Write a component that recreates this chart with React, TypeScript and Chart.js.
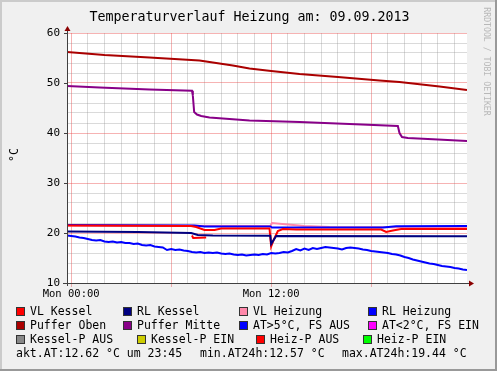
import React, { useEffect, useRef } from 'react';
import { Chart, registerables } from 'chart.js';

Chart.register(...registerables);

// ---------- texts ----------
const TITLE = 'Temperaturverlauf Heizung am: 09.09.2013';
const Y_UNIT = '°C';
const WATERMARK = 'RRDTOOL / TOBI OETIKER';
const X_TICK_LABELS: Record<number, string> = { 0: 'Mon 00:00', 12: 'Mon 12:00' };
const STATS_TEXTS = ['akt.AT:12.62 °C um 23:45', 'min.AT24h:12.57 °C', 'max.AT24h:19.44 °C'];

// ---------- axes ----------
const X_MIN = -0.25; // hours relative to Mon 00:00
const X_MAX = 23.75;
const Y_MIN = 10;
const Y_MAX = 60;
const X_GRID_HOURS = [0, 1, 2, 3, 4, 5, 6, 7, 8, 9, 10, 11, 12, 13, 14, 15, 16, 17, 18, 19, 20, 21, 22, 23];
const Y_GRID_VALUES = [10, 12, 14, 16, 18, 20, 22, 24, 26, 28, 30, 32, 34, 36, 38, 40, 42, 44, 46, 48, 50, 52, 54, 56, 58, 60];

// ---------- series (time in hours, value in °C) ----------
const pufferObenT = [-0.25, 2, 4.7, 7.7, 8.1, 9.7, 10.7, 12, 13.7, 16, 18.5, 19.7, 22.1, 23.75];
const pufferObenV = [56.2, 55.6, 55.1, 54.5, 54.3, 53.5, 52.9, 52.4, 51.8, 51.2, 50.5, 50.2, 49.3, 48.6];

const pufferMitteT = [-0.25, 1.7, 4.7, 7.25, 7.3, 7.38, 7.55, 7.8, 8.3, 9.5, 10.7, 13.7, 16.7, 19.6, 19.7, 19.85, 20.2, 22, 23.75];
const pufferMitteV = [49.4, 49.1, 48.7, 48.45, 47.5, 44.2, 43.7, 43.4, 43.1, 42.8, 42.5, 42.2, 41.8, 41.4, 40.0, 39.2, 39.0, 38.7, 38.4];

const vlKesselT = [-0.25, 7.2, 7.5, 8.0, 8.6, 9.0, 11.9, 12.0, 12.15, 12.4, 12.7, 13.5, 18.6, 18.9, 19.3, 19.8, 23.75];
const vlKesselV = [21.5, 21.4, 21.2, 20.6, 20.6, 20.9, 20.9, 17.3, 18.6, 20.4, 20.8, 20.7, 20.7, 20.2, 20.5, 20.8, 20.8];

const rlKesselT = [-0.25, 4.0, 7.2, 7.6, 8.5, 11.95, 12.0, 12.3, 23.75];
const rlKesselV = [20.3, 20.2, 20.0, 19.6, 19.5, 19.45, 17.8, 19.4, 19.35];

const vlHeizungT = [-0.25, 11.95, 12.05, 13.0, 14.0, 15.5, 23.75];
const vlHeizungV = [21.5, 21.4, 22.0, 21.7, 21.4, 21.2, 21.1];

const rlHeizungT = [-0.25, 7.4, 8.0, 11.95, 12.05, 18.7, 19.5, 23.75];
const rlHeizungV = [21.6, 21.5, 21.3, 21.3, 21.1, 21.1, 21.35, 21.4];

const heizPAusT = [7.25, 7.32, 8.1];
const heizPAusV = [19.5, 19.0, 19.1];

// outside temperature, one sample every 15 minutes from X_MIN
const AT_STEP = 0.25;
const atV = [
  19.5, 19.4, 19.3, 19.1, 19.0, 18.8, 18.6, 18.5, 18.6, 18.3,
  18.2, 18.3, 18.1, 18.2, 18.0, 18.0, 17.8, 17.9, 17.6, 17.5,
  17.6, 17.3, 17.2, 17.1, 16.6, 16.8, 16.6, 16.7, 16.5, 16.4,
  16.2, 16.1, 16.2, 16.0, 16.1, 16.0, 16.1, 15.9, 15.8, 15.9,
  15.7, 15.6, 15.7, 15.5, 15.6, 15.7, 15.6, 15.8, 15.7, 16.0,
  15.9, 16.0, 16.2, 16.1, 16.4, 16.8, 16.5, 16.9, 16.6, 17.0,
  16.8, 17.0, 17.2, 17.1, 17.0, 16.9, 16.7, 17.0, 17.1, 17.0,
  16.9, 16.7, 16.6, 16.4, 16.3, 16.2, 16.1, 16.0, 15.8, 15.7,
  15.5, 15.2, 15.0, 14.7, 14.5, 14.3, 14.1, 13.9, 13.8, 13.6,
  13.4, 13.3, 13.2, 13.0, 12.9, 12.7, 12.6,
];

// ---------- legend ----------
const legendLabels = [
  ['VL Kessel', 'RL Kessel', 'VL Heizung', 'RL Heizung'],
  ['Puffer Oben', 'Puffer Mitte', 'AT>5°C, FS AUS', 'AT<2°C, FS EIN'],
  ['Kessel-P AUS', 'Kessel-P EIN', 'Heiz-P AUS', 'Heiz-P EIN'],
];
const legendColors = [
  ['#FF0000', '#000080', '#FF88AA', '#0000FF'],
  ['#AA0000', '#880088', '#0000FF', '#FF00FF'],
  ['#888888', '#CCCC00', '#FF0000', '#00FF00'],
];
const legendBoxX = [
  [16, 123, 239, 368],
  [16, 123, 239, 368],
  [16, 137, 256, 363],
];
const legendRowBaseline = [315, 329, 343];
const statsX = [16, 200, 342];
const statsBaseline = 357;

// ---------- styles ----------
const FONT = '"DejaVu Sans Mono", monospace';
const BACK = '#F0F0F0';
const SHADE_A = '#CBCBCB';
const SHADE_B = '#999999';
const GRID_MINOR = 'rgba(140,140,140,0.32)';
const GRID_MAJOR = 'rgba(232,64,64,0.4)';
const AXIS = '#404040';
const ARROW = '#8B0000';

const pts = (t: number[], v: number[]) => t.map((x, i) => ({ x, y: v[i] }));
const atPts = atV.map((y, i) => ({ x: X_MIN + i * AT_STEP, y }));

const rrdPlugin = {
  id: 'rrdDecor',
  beforeDraw(chart: any) {
    const { ctx, width, height, chartArea: a } = chart;
    ctx.save();
    ctx.fillStyle = BACK;
    ctx.fillRect(0, 0, width, height);
    ctx.fillStyle = SHADE_A;
    ctx.fillRect(0, 0, width, 2);
    ctx.fillRect(0, 0, 2, height);
    ctx.fillStyle = SHADE_B;
    ctx.fillRect(0, height - 2, width, 2);
    ctx.fillRect(width - 2, 0, 2, height);
    ctx.fillStyle = '#FFFFFF';
    ctx.fillRect(a.left, a.top, a.right - a.left, a.bottom - a.top);
    ctx.restore();
  },
  afterDraw(chart: any) {
    const { ctx, chartArea: a, scales } = chart;
    const xs = scales.x;
    const ys = scales.y;
    ctx.save();
    // major tick stubs
    ctx.lineWidth = 1;
    ctx.strokeStyle = GRID_MAJOR;
    X_GRID_HOURS.filter((h) => h % 6 === 0).forEach((h) => {
      const px = Math.round(xs.getPixelForValue(h)) + 0.5;
      ctx.beginPath();
      ctx.moveTo(px, a.bottom);
      ctx.lineTo(px, a.bottom + 4);
      ctx.stroke();
    });
    ctx.strokeStyle = AXIS;
    Y_GRID_VALUES.filter((v) => v % 10 === 0).forEach((v) => {
      const py = Math.round(ys.getPixelForValue(v)) + 0.5;
      ctx.beginPath();
      ctx.moveTo(a.left - 3, py);
      ctx.lineTo(a.left, py);
      ctx.stroke();
    });
    // axes
    const ax = Math.round(a.left) + 0.5;
    const ay = Math.round(a.bottom) + 0.5;
    ctx.strokeStyle = AXIS;
    ctx.beginPath();
    ctx.moveTo(ax, a.bottom + 3);
    ctx.lineTo(ax, a.top - 4);
    ctx.stroke();
    ctx.beginPath();
    ctx.moveTo(a.left - 4, ay);
    ctx.lineTo(a.right + 3, ay);
    ctx.stroke();
    ctx.fillStyle = ARROW;
    ctx.beginPath();
    ctx.moveTo(ax - 3, a.top - 2);
    ctx.lineTo(ax + 3, a.top - 2);
    ctx.lineTo(ax, a.top - 7);
    ctx.closePath();
    ctx.fill();
    ctx.beginPath();
    ctx.moveTo(a.right + 2, ay - 3);
    ctx.lineTo(a.right + 2, ay + 3);
    ctx.lineTo(a.right + 7, ay);
    ctx.closePath();
    ctx.fill();

    // title
    ctx.fillStyle = '#000000';
    ctx.font = `13.3px ${FONT}`;
    ctx.textAlign = 'center';
    ctx.textBaseline = 'alphabetic';
    ctx.fillText(TITLE, 249.5, 21);

    // unit label
    ctx.save();
    ctx.translate(18, 155);
    ctx.rotate(-Math.PI / 2);
    ctx.font = `11.5px ${FONT}`;
    ctx.textAlign = 'center';
    ctx.fillText(Y_UNIT, 0, 0);
    ctx.restore();

    // watermark
    ctx.save();
    ctx.translate(484, 61.5);
    ctx.rotate(Math.PI / 2);
    ctx.font = `8.2px ${FONT}`;
    ctx.fillStyle = '#B8B8B8';
    ctx.textAlign = 'center';
    ctx.fillText(WATERMARK, 0, 0);
    ctx.restore();

    // legend
    ctx.font = `11.5px ${FONT}`;
    ctx.textAlign = 'left';
    ctx.textBaseline = 'alphabetic';
    legendLabels.forEach((row, r) => {
      row.forEach((label, c) => {
        const bx = legendBoxX[r][c];
        const by = legendRowBaseline[r] - 8;
        ctx.fillStyle = legendColors[r][c];
        ctx.fillRect(bx, by, 9, 9);
        ctx.strokeStyle = '#333333';
        ctx.lineWidth = 1;
        ctx.strokeRect(bx + 0.5, by + 0.5, 8, 8);
        ctx.fillStyle = '#000000';
        ctx.fillText(label, bx + 14, legendRowBaseline[r]);
      });
    });
    STATS_TEXTS.forEach((t, i) => {
      ctx.fillText(t, statsX[i], statsBaseline);
    });
    ctx.restore();
  },
};

export default function App() {
  const ref = useRef<HTMLCanvasElement | null>(null);
  useEffect(() => {
    document.body.style.margin = '0';
    if (!ref.current) return;
    const line = (label: string, data: any[], color: string) => ({
      label,
      data,
      borderColor: color,
      backgroundColor: color,
      borderWidth: 2,
      pointRadius: 0,
      tension: 0,
      fill: false,
    });
    const chart = new Chart(ref.current, {
      type: 'line',
      data: {
        datasets: [
          line('AT', atPts, '#0000FF'),
          line('Puffer Mitte', pts(pufferMitteT, pufferMitteV), '#880088'),
          line('Puffer Oben', pts(pufferObenT, pufferObenV), '#AA0000'),
          line('RL Kessel', pts(rlKesselT, rlKesselV), '#000080'),
          line('VL Kessel', pts(vlKesselT, vlKesselV), '#FF0000'),
          line('RL Heizung', pts(rlHeizungT, rlHeizungV), '#0000FF'),
          line('Heiz-P AUS', pts(heizPAusT, heizPAusV), '#FF0000'),
          line('VL Heizung', pts(vlHeizungT, vlHeizungV), '#FF88AA'),
        ],
      },
      options: {
        responsive: false,
        devicePixelRatio: 1,
        animation: false,
        events: [],
        layout: { padding: { top: 33, left: 0, right: 30, bottom: 0 } },
        plugins: {
          legend: { display: false },
          title: { display: false },
          tooltip: { enabled: false },
        },
        scales: {
          x: {
            type: 'linear',
            min: X_MIN,
            max: X_MAX,
            afterBuildTicks: (s: any) => {
              s.ticks = X_GRID_HOURS.map((v) => ({ value: v }));
            },
            afterFit: (s: any) => {
              s.height = 88;
            },
            border: { display: false },
            grid: {
              drawTicks: false,
              lineWidth: 1,
              color: (c: any) => (c.tick && c.tick.value % 6 === 0 ? GRID_MAJOR : GRID_MINOR),
            },
            ticks: {
              autoSkip: false,
              maxRotation: 0,
              padding: 5,
              color: '#000000',
              font: { family: FONT, size: 10.5 },
              callback: (v: any) => X_TICK_LABELS[v as number] ?? '',
            },
          },
          y: {
            type: 'linear',
            min: Y_MIN,
            max: Y_MAX,
            afterBuildTicks: (s: any) => {
              s.ticks = Y_GRID_VALUES.map((v) => ({ value: v }));
            },
            afterFit: (s: any) => {
              s.width = 67;
            },
            border: { display: false },
            grid: {
              drawTicks: false,
              lineWidth: 1,
              color: (c: any) => (c.tick && c.tick.value % 10 === 0 ? GRID_MAJOR : GRID_MINOR),
            },
            ticks: {
              autoSkip: false,
              padding: 7,
              color: '#000000',
              font: { family: FONT, size: 11 },
              callback: (v: any) => ((v as number) % 10 === 0 ? String(v) : ''),
            },
          },
        },
      },
      plugins: [rrdPlugin],
    } as any);
    return () => chart.destroy();
  }, []);
  return (
    <div style={{ width: 497, height: 371 }}>
      <canvas ref={ref} width={497} height={371} style={{ display: 'block' }} />
    </div>
  );
}
